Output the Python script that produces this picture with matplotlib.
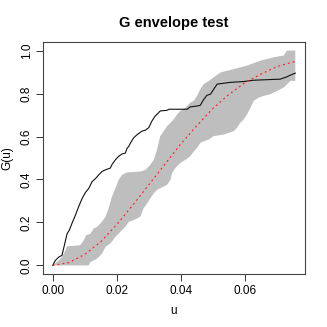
import numpy as np
import matplotlib
matplotlib.use("Agg")
import matplotlib.pyplot as plt

plt.rcParams['font.family'] = ['Liberation Sans', 'DejaVu Sans']

obs_u = [0, 0.0008, 0.0019, 0.0029, 0.0034, 0.0045, 0.0052, 0.0060, 0.0071, 0.0081,
         0.0092, 0.0102, 0.0113, 0.0123, 0.0133, 0.0144, 0.0154, 0.0165, 0.0180, 0.0185,
         0.0196, 0.0206, 0.0217, 0.0227, 0.0232, 0.0238, 0.0243, 0.0253, 0.0264, 0.0279,
         0.0290, 0.0300, 0.0310, 0.0320, 0.0331, 0.0336, 0.0357, 0.0363, 0.0420, 0.0430,
         0.0451, 0.0461, 0.0472, 0.0482, 0.0493, 0.0503, 0.0514, 0.0555, 0.0597, 0.0628,
         0.0711, 0.0732, 0.0743, 0.0758]
obs_G = [0, 0.023, 0.039, 0.047, 0.078, 0.148, 0.164, 0.195, 0.234, 0.273,
         0.312, 0.339, 0.359, 0.390, 0.403, 0.422, 0.437, 0.445, 0.453, 0.469,
         0.492, 0.508, 0.519, 0.523, 0.544, 0.555, 0.570, 0.594, 0.609, 0.625,
         0.630, 0.641, 0.672, 0.695, 0.711, 0.719, 0.722, 0.727, 0.727, 0.738,
         0.742, 0.745, 0.773, 0.792, 0.797, 0.820, 0.844, 0.852, 0.856, 0.862,
         0.867, 0.878, 0.886, 0.895]

# Upper envelope
hi_u = [0, 0.00135, 0.0029, 0.0040, 0.0045, 0.0086, 0.0097, 0.0105, 0.0118, 0.0128,
        0.0139, 0.0154, 0.0165, 0.0175, 0.0185, 0.0196, 0.0206, 0.0217, 0.0232, 0.0274,
        0.0290, 0.0305, 0.0316, 0.0326, 0.0336, 0.0347, 0.0357, 0.0368, 0.0378, 0.0389,
        0.0399, 0.0415, 0.0430, 0.0441, 0.0451, 0.0461, 0.0472, 0.0488, 0.0503, 0.0524,
        0.0566, 0.0607, 0.0649, 0.0691, 0.0722, 0.0732, 0.0758]
hi_G = [0, 0.016, 0.039, 0.070, 0.089, 0.094, 0.117, 0.141, 0.148, 0.172,
        0.180, 0.203, 0.227, 0.266, 0.320, 0.359, 0.398, 0.422, 0.433, 0.437,
        0.445, 0.469, 0.492, 0.539, 0.602, 0.625, 0.648, 0.664, 0.680, 0.703,
        0.719, 0.734, 0.758, 0.766, 0.789, 0.820, 0.844, 0.859, 0.875, 0.898,
        0.914, 0.930, 0.953, 0.969, 0.977, 1.0, 1.0]

# Lower envelope
lo_u = [0, 0.01125, 0.0118, 0.0133, 0.0144, 0.0154, 0.0165, 0.0180, 0.0196, 0.0211,
        0.0227, 0.0238, 0.0253, 0.0274, 0.0284, 0.0295, 0.0305, 0.0316, 0.0326, 0.0336,
        0.0357, 0.0368, 0.0373, 0.0383, 0.0399, 0.0415, 0.0430, 0.0441, 0.0451, 0.0461,
        0.0472, 0.0488, 0.0503, 0.0534, 0.0566, 0.0576, 0.0586, 0.0597, 0.0607, 0.0618,
        0.0628, 0.0644, 0.0659, 0.0680, 0.0701, 0.0722, 0.0743, 0.0758]
lo_G = [0, 0.0, 0.016, 0.027, 0.039, 0.055, 0.086, 0.102, 0.133, 0.156,
        0.180, 0.203, 0.211, 0.227, 0.266, 0.289, 0.312, 0.336, 0.352, 0.359,
        0.375, 0.398, 0.430, 0.453, 0.477, 0.492, 0.508, 0.531, 0.547, 0.570,
        0.578, 0.586, 0.602, 0.609, 0.625, 0.641, 0.664, 0.680, 0.703, 0.734,
        0.766, 0.781, 0.789, 0.797, 0.812, 0.828, 0.859, 0.859]

# Theoretical G(u)
th_u = [0, 0.005, 0.010, 0.015, 0.020, 0.025, 0.030, 0.035, 0.040, 0.045,
        0.050, 0.055, 0.060, 0.065, 0.070, 0.0758]
th_G = [0, 0.013, 0.051, 0.110, 0.190, 0.280, 0.375, 0.470, 0.565, 0.650,
        0.730, 0.795, 0.850, 0.890, 0.925, 0.950]

fig = plt.figure(figsize=(3.27, 3.27), dpi=100)
ax = fig.add_axes([0.1315, 0.162, 0.8012, 0.7096])

# envelope polygon: upper edge forward, lower edge back
ax.fill(np.concatenate([hi_u, lo_u[::-1]]), np.concatenate([hi_G, lo_G[::-1]]),
        color='#BEBEBE', lw=0)

ax.plot(obs_u, obs_G, color='#111111', lw=0.8)
ax.plot(th_u, th_G, color='#FF2020', lw=0.85, linestyle=(0, (1.6, 2.6)))

ax.set_xlim(-0.00303, 0.07883)
ax.set_ylim(-0.04, 1.04)
ax.set_xticks([0.0, 0.02, 0.04, 0.06])
ax.set_xticklabels(['0.00', '0.02', '0.04', '0.06'])
ax.set_yticks([0.0, 0.2, 0.4, 0.6, 0.8, 1.0])
ax.set_yticklabels(['0.0', '0.2', '0.4', '0.6', '0.8', '1.0'], rotation=90, va='center')
ax.tick_params(length=5, width=0.7, labelsize=8.5, color='#333333')
ax.tick_params(axis='x', pad=3)
ax.tick_params(axis='y', pad=2.5)
for s in ax.spines.values():
    s.set_linewidth(0.8)
    s.set_color('#444444')

ax.set_xlabel('u', fontsize=8.5, labelpad=6)
ax.set_ylabel('G(u)', fontsize=8.5, labelpad=5)
ax.set_title('G envelope test', fontsize=10.5, fontweight='bold', pad=11)

fig.savefig('out.png', dpi=100)
